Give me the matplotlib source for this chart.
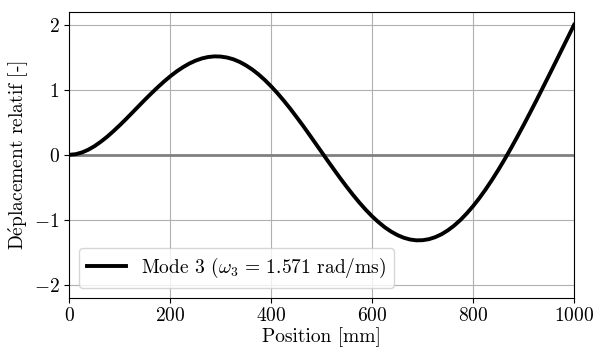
import numpy as np
import matplotlib
matplotlib.use('Agg')
import matplotlib.pyplot as plt

plt.rcParams['font.family'] = ['cmr10', 'DejaVu Serif']
plt.rcParams['mathtext.fontset'] = 'cm'
plt.rcParams['axes.formatter.use_mathtext'] = True
plt.rcParams['font.size'] = 14

# position le long de la poutre [mm] et deplacement relatif
position = [0, 12.5, 25, 37.5, 50, 62.5, 75, 87.5, 100, 112.5, 125, 137.5,
            150, 162.5, 175, 187.5, 200, 212.5, 225, 237.5, 250, 262.5,
            275, 287.5, 300, 312.5, 325, 337.5, 350, 362.5, 375, 387.5,
            400, 412.5, 425, 437.5, 450, 462.5, 475, 487.5, 500, 512.5,
            525, 537.5, 550, 562.5, 575, 587.5, 600, 612.5, 625, 637.5,
            650, 662.5, 675, 687.5, 700, 712.5, 725, 737.5, 750, 762.5,
            775, 787.5, 800, 812.5, 825, 837.5, 850, 862.5, 875, 887.5,
            900, 912.5, 925, 937.5, 950, 962.5, 975, 987.5, 1000]
deplacement = [0.000, 0.009, 0.036, 0.078, 0.134, 0.202, 0.279, 0.365,
               0.456, 0.552, 0.651, 0.751, 0.850, 0.946, 1.039, 1.127,
               1.209, 1.283, 1.348, 1.404, 1.449, 1.483, 1.505, 1.515,
               1.512, 1.497, 1.470, 1.429, 1.376, 1.312, 1.236, 1.149,
               1.052, 0.946, 0.832, 0.711, 0.583, 0.452, 0.316, 0.178,
               0.040, -0.099, -0.235, -0.369, -0.498, -0.622, -0.739,
               -0.848, -0.948, -1.037, -1.116, -1.182, -1.236, -1.277,
               -1.304, -1.317, -1.315, -1.299, -1.268, -1.223, -1.163,
               -1.090, -1.003, -0.902, -0.790, -0.666, -0.531, -0.386,
               -0.232, -0.070, 0.100, 0.276, 0.456, 0.642, 0.830, 1.023,
               1.216, 1.411, 1.607, 1.803, 1.999]

fig, ax = plt.subplots(figsize=(5.93, 3.49), dpi=100)
fig.subplots_adjust(left=0.117, right=0.968, top=0.966, bottom=0.147)

ax.axhline(0, color='gray', linewidth=2, zorder=2)
ax.plot(position, deplacement, color='black', linewidth=2.8, zorder=3,
        label=r'Mode 3 ($\omega_3 \,=\, 1.571$ rad/ms)')

ax.set_xlim(0, 1000)
ax.set_ylim(-2.2, 2.2)
ax.set_xticks([0, 200, 400, 600, 800, 1000])
ax.set_yticks([-2, -1, 0, 1, 2])
ax.grid(True, color='#b0b0b0', linewidth=0.8)
ax.set_axisbelow(True)
ax.set_xlabel('Position [mm]', labelpad=1)
ax.set_ylabel(r'D$\acute{\mathrm{e}}$placement relatif [-]', labelpad=2)
ax.legend(loc='lower left')

fig.savefig('out.png', dpi=100)
